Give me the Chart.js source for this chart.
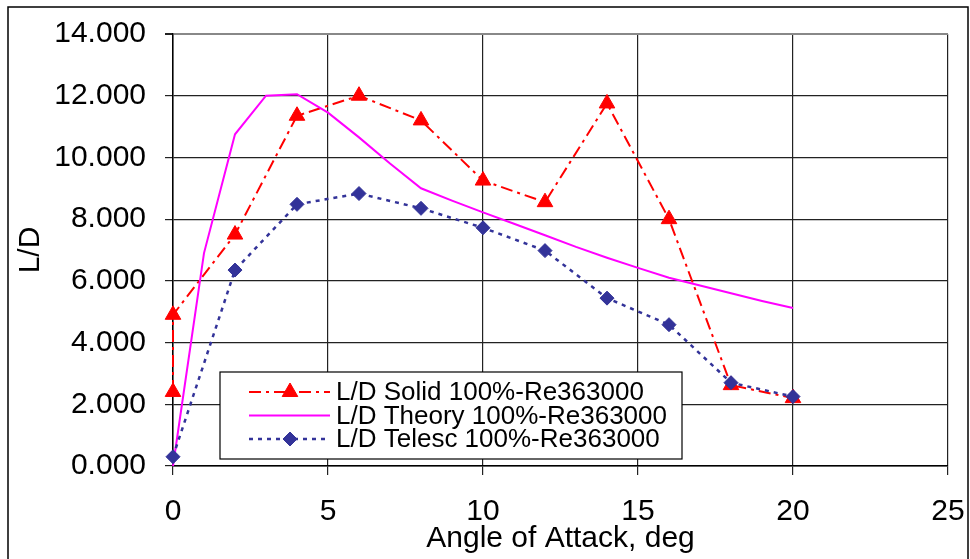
<!DOCTYPE html>
<html>
<head>
<meta charset="utf-8">
<title>L/D vs Angle of Attack</title>
<script src="https://cdn.jsdelivr.net/npm/chart.js@4/dist/chart.umd.min.js"></script>
<style>
    body { margin: 0; background: #fff; }
    #wrap { width: 970px; height: 559px; }
</style>
</head>
<body>
<div id="wrap"><canvas id="ldChart" width="970" height="559"></canvas></div>
<script>
//data
const seriesNames = ['L/D Solid 100%-Re363000', 'L/D Theory 100%-Re363000', 'L/D Telesc 100%-Re363000'];

const solidAngle = [0, 0, 2, 4, 6, 8, 10, 12, 14, 16, 18, 20];
const solidLD = [2.4, 4.9, 7.5, 11.35, 12.0, 11.2, 9.25, 8.55, 11.75, 8.0, 2.62, 2.2];

const theoryAngle = [0, 1, 2, 3, 4, 5, 6, 7, 8, 9, 10, 11, 12, 13, 14, 15, 16, 17, 18, 19, 20];
const theoryLD = [0, 6.9, 10.75, 12.0, 12.05, 11.45, 10.65, 9.8, 9.0, 8.6, 8.22, 7.85, 7.48, 7.1, 6.75, 6.42, 6.1, 5.85, 5.6, 5.35, 5.12];

const telescAngle = [0, 2, 4, 6, 8, 10, 12, 14, 16, 18, 20];
const telescLD = [0.3, 6.35, 8.48, 8.83, 8.35, 7.72, 6.98, 5.44, 4.58, 2.7, 2.25];

const xTicks = [0, 5, 10, 15, 20, 25];
const yTicks = [0, 2, 4, 6, 8, 10, 12, 14];

const fontFamily = '"Liberation Sans", Arial, sans-serif';

function toPoints(xs, ys){
    return xs.map((x, i) => ({x: x, y: ys[i]}));
}

//white page with a thin frame
const framePlugin = {
    id: 'frame',
    beforeDraw(chart){
        const c = chart.ctx;
        c.save();
        c.fillStyle = '#fff';
        c.fillRect(0, 0, chart.width, chart.height);
        c.strokeStyle = '#000';
        c.lineWidth = 1.5;
        c.strokeRect(8, 7, 960, 580);
        c.restore();
    }
};

//marker helper, falls back to a plain path if helpers are missing
function drawMarker(c, ds, x, y){
    if (ds.pointRadius <= 0) return;
    const opts = {pointStyle: ds.pointStyle, radius: ds.pointRadius, borderWidth: ds.pointBorderWidth, rotation: 0};
    c.fillStyle = ds.pointBackgroundColor;
    c.strokeStyle = ds.pointBorderColor;
    c.lineWidth = ds.pointBorderWidth;
    c.setLineDash([]);
    if (Chart.helpers && Chart.helpers.drawPoint){
        Chart.helpers.drawPoint(c, opts, x, y);
        return;
    }
    const r = ds.pointRadius;
    c.beginPath();
    if (ds.pointStyle === 'triangle'){
        c.moveTo(x, y - r);
        c.lineTo(x + r * 0.866, y + r / 2);
        c.lineTo(x - r * 0.866, y + r / 2);
    } else {
        c.moveTo(x, y - r);
        c.lineTo(x + r, y);
        c.lineTo(x, y + r);
        c.lineTo(x - r, y);
    }
    c.closePath();
    c.fill();
    c.stroke();
}

//boxed legend sitting inside the plot area
const boxLegend = {
    id: 'boxLegend',
    afterDraw(chart){
        const c = chart.ctx;
        const left = 220, top = 372, w = 462, h = 87;
        c.save();
        c.fillStyle = '#fff';
        c.fillRect(left, top, w, h);
        c.strokeStyle = '#000';
        c.lineWidth = 1.2;
        c.strokeRect(left, top, w, h);

        const rows = [392, 415.5, 439];
        chart.data.datasets.forEach((ds, i) => {
            const y = rows[i];
            c.strokeStyle = ds.borderColor;
            c.lineWidth = ds.borderWidth;
            c.setLineDash(ds.borderDash || []);
            c.beginPath();
            c.moveTo(249, y);
            c.lineTo(330, y);
            c.stroke();
            drawMarker(c, ds, 290, y);

            c.fillStyle = '#000';
            c.font = '26px ' + fontFamily;
            c.textAlign = 'left';
            c.textBaseline = 'middle';
            c.fillText(ds.label, 336, y + 1);
        });
        c.restore();
    }
};

const ctx = document.getElementById('ldChart').getContext('2d');
const ldChart = new Chart(ctx, {
    type: 'scatter',
    data: {
        datasets: [
        {
            label: seriesNames[0],
            data: toPoints(solidAngle, solidLD),
            showLine: true,
            borderColor: '#ff0000',
            borderWidth: 2,
            borderDash: [12, 5, 3, 5],
            pointStyle: 'triangle',
            pointRadius: 9,
            pointBackgroundColor: '#ff0000',
            pointBorderColor: '#ff0000',
            pointBorderWidth: 1,
            clip: false,
            order: 2
        },
        {
            label: seriesNames[1],
            data: toPoints(theoryAngle, theoryLD),
            showLine: true,
            borderColor: '#ff00ff',
            borderWidth: 2,
            pointRadius: 0,
            pointStyle: 'circle',
            pointBackgroundColor: '#ff00ff',
            pointBorderColor: '#ff00ff',
            pointBorderWidth: 0,
            clip: false,
            order: 1
        },
        {
            label: seriesNames[2],
            data: toPoints(telescAngle, telescLD),
            showLine: true,
            borderColor: '#333399',
            borderWidth: 2.5,
            borderDash: [4, 5],
            pointStyle: 'rectRot',
            pointRadius: 7,
            pointBackgroundColor: '#333399',
            pointBorderColor: '#333399',
            pointBorderWidth: 1,
            clip: false,
            order: 0
        }
    ]
    },
    options: {
        responsive: false,
        animation: false,
        events: [],
        layout: {
            padding: {left: 0, right: 22, top: 34, bottom: 0}
        },
        plugins: {
            legend: {display: false},
            tooltip: {enabled: false}
        },
        elements: {
            line: {tension: 0, fill: false}
        },
        scales: {
            x: {
                type: 'linear',
                min: 0,
                max: 25,
                afterBuildTicks: (scale) => { scale.ticks = xTicks.map(v => ({value: v})); },
                afterFit: (scale) => {
                    scale.height = 93;
                    scale.paddingLeft = 0;
                    scale.paddingRight = 0;
                },
                grid: {
                    color: '#222',
                    lineWidth: 1.2,
                    tickLength: 9,
                    tickColor: '#222'
                },
                border: {color: '#000', width: 1.5},
                ticks: {
                    color: '#000',
                    padding: 19,
                    maxRotation: 0,
                    font: {family: fontFamily, size: 30}
                },
                title: {
                    display: true,
                    text: 'Angle of Attack, deg',
                    color: '#000',
                    padding: {top: 0, bottom: 2},
                    font: {family: fontFamily, size: 30}
                }
            },
            y: {
                type: 'linear',
                min: 0,
                max: 14,
                afterBuildTicks: (scale) => { scale.ticks = yTicks.map(v => ({value: v})); },
                afterFit: (scale) => {
                    scale.width = 173;
                    scale.paddingTop = 0;
                    scale.paddingBottom = 0;
                },
                grid: {
                    color: (c) => c.tick && c.tick.value === 14 ? '#888' : '#222',
                    lineWidth: (c) => c.tick && c.tick.value === 14 ? 2 : 1.2,
                    tickLength: 8,
                    tickColor: '#222'
                },
                border: {color: '#000', width: 1.5},
                ticks: {
                    color: '#000',
                    padding: 19,
                    font: {family: fontFamily, size: 30},
                    callback: (v) => Number(v).toFixed(3)
                },
                title: {
                    display: true,
                    text: 'L/D',
                    color: '#000',
                    padding: {top: 13, bottom: 0},
                    font: {family: fontFamily, size: 30}
                }
            }
        }
    },
    plugins: [framePlugin, boxLegend]
});
</script>
</body>
</html>
